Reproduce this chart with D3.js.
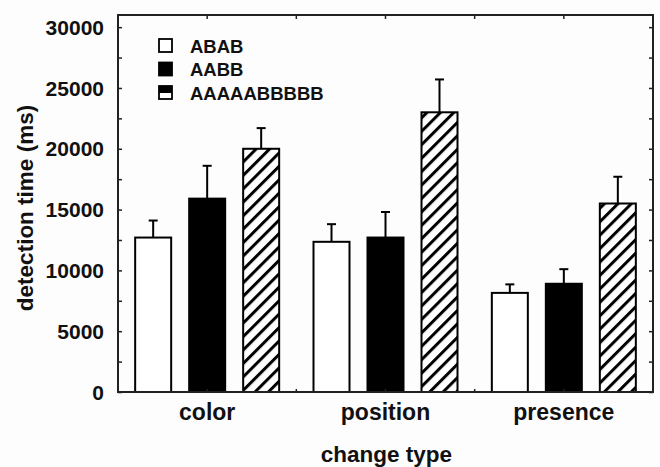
<!DOCTYPE html>
<html>
<head>
<meta charset="utf-8">
<script src="https://cdn.jsdelivr.net/npm/d3@7/dist/d3.min.js"></script>
<style>
  html, body { margin: 0; padding: 0; background: #fdfdfd; }
  svg { display: block; }
  text { font-family: "Liberation Sans", Arial, Helvetica, sans-serif; font-weight: bold; fill: #111; }
</style>
</head>
<body>
<svg id="chart" width="660" height="467"></svg>
<script>
const categories = ["color", "position", "presence"];
const seriesNames = ["ABAB", "AABB", "AAAAABBBBB"];
const valuesABAB = [12700, 12350, 8150];
const errorsABAB = [1400, 1450, 700];
const valuesAABB = [15900, 12700, 8900];
const errorsAABB = [2700, 2100, 1200];
const valuesAAAAABBBBB = [20000, 23000, 15500];
const errorsAAAAABBBBB = [1700, 2700, 2200];
const yTicks = [0, 5000, 10000, 15000, 20000, 25000, 30000];
const yMinorTicks = [2500, 7500, 12500, 17500, 22500, 27500];
const xLabel = "change type";
const yLabel = "detection time (ms)";

const seriesValues = [valuesABAB, valuesAABB, valuesAAAAABBBBB];
const seriesErrors = [errorsABAB, errorsAABB, errorsAAAAABBBBB];
const fills = ["#ffffff", "#000000", "url(#hatch)"];

const data = [];
categories.forEach((c, i) => {
  seriesNames.forEach((s, j) => {
    data.push({cat: c, series: s, value: seriesValues[j][i], err: seriesErrors[j][i], fill: fills[j]});
  });
});

const svg = d3.select("#chart");
const L = 118, R = 653, T = 15, B = 392;

const defs = svg.append("defs");
const pat = defs.append("pattern")
  .attr("id", "hatch")
  .attr("patternUnits", "userSpaceOnUse")
  .attr("width", 9.5).attr("height", 9.5)
  .attr("patternTransform", "rotate(45)");
pat.append("rect").attr("width", 9.5).attr("height", 9.5).attr("fill", "#fff");
pat.append("line").attr("x1", 1.5).attr("y1", 0).attr("x2", 1.5).attr("y2", 9.5)
  .attr("stroke", "#000").attr("stroke-width", 3);

const y = d3.scaleLinear().domain([0, 31000]).range([B, T]);
const x0 = d3.scaleBand().domain(categories).range([L, R]).padding(0);
const bw = x0.bandwidth();
const x1 = d3.scaleBand().domain(seriesNames)
  .range([bw / 2 - 72, bw / 2 + 72]).paddingInner(1 / 3).paddingOuter(0);

// bars
const g = svg.append("g");
g.selectAll("rect.bar").data(data).enter().append("rect")
  .attr("class", "bar")
  .attr("x", d => x0(d.cat) + x1(d.series))
  .attr("y", d => y(d.value))
  .attr("width", x1.bandwidth())
  .attr("height", d => y(0) - y(d.value))
  .attr("fill", d => d.fill)
  .attr("stroke", "#000")
  .attr("stroke-width", 2);

// error bars
const capW = 4.5;
g.selectAll("line.err").data(data).enter().append("line")
  .attr("x1", d => x0(d.cat) + x1(d.series) + x1.bandwidth() / 2)
  .attr("x2", d => x0(d.cat) + x1(d.series) + x1.bandwidth() / 2)
  .attr("y1", d => y(d.value))
  .attr("y2", d => y(d.value + d.err))
  .attr("stroke", "#000").attr("stroke-width", 2);
g.selectAll("line.cap").data(data).enter().append("line")
  .attr("x1", d => x0(d.cat) + x1(d.series) + x1.bandwidth() / 2 - capW)
  .attr("x2", d => x0(d.cat) + x1(d.series) + x1.bandwidth() / 2 + capW)
  .attr("y1", d => y(d.value + d.err))
  .attr("y2", d => y(d.value + d.err))
  .attr("stroke", "#000").attr("stroke-width", 2);

// axes (ticks inward)
const allYTicks = yTicks.concat(yMinorTicks);
const leftAxis = d3.axisRight(y).tickValues(allYTicks).tickSize(4).tickFormat("");
const rightAxis = d3.axisLeft(y).tickValues(allYTicks).tickSize(4).tickFormat("");
const la = svg.append("g").attr("transform", `translate(${L},0)`).call(leftAxis);
const ra = svg.append("g").attr("transform", `translate(${R},0)`).call(rightAxis);
[la, ra].forEach(a => {
  a.select(".domain").remove();
  a.selectAll("line").attr("stroke", "#222").attr("stroke-width", 1.5);
});

// y tick labels
svg.append("g").selectAll("text").data(yTicks).enter().append("text")
  .attr("x", L - 14)
  .attr("y", d => y(d))
  .attr("dy", "0.36em")
  .attr("text-anchor", "end")
  .attr("font-size", 21)
  .text(d => d);

// x top/bottom ticks at centers and boundaries
const xTickPos = [];
categories.forEach((c, i) => {
  xTickPos.push(x0(c) + bw / 2);
  if (i > 0) xTickPos.push(x0(c));
});
svg.append("g").selectAll("line").data(xTickPos).enter().append("line")
  .attr("x1", d => d).attr("x2", d => d)
  .attr("y1", T).attr("y2", T + 4)
  .attr("stroke", "#222").attr("stroke-width", 1.5);
svg.append("g").selectAll("line").data(xTickPos).enter().append("line")
  .attr("x1", d => d).attr("x2", d => d)
  .attr("y1", B).attr("y2", B - 3)
  .attr("stroke", "#222").attr("stroke-width", 1.5);

// frame
svg.append("rect")
  .attr("x", L).attr("y", T).attr("width", R - L).attr("height", B - T)
  .attr("fill", "none").attr("stroke", "#222").attr("stroke-width", 2);

// category labels
svg.append("g").selectAll("text").data(categories).enter().append("text")
  .attr("x", d => x0(d) + bw / 2)
  .attr("y", 420)
  .attr("text-anchor", "middle")
  .attr("font-size", 23)
  .text(d => d);

// axis titles
svg.append("text")
  .attr("x", (L + R) / 2 + 1)
  .attr("y", 462)
  .attr("text-anchor", "middle")
  .attr("font-size", 22.5)
  .text(xLabel);
svg.append("text")
  .attr("transform", `translate(33,208) rotate(-90)`)
  .attr("text-anchor", "middle")
  .attr("font-size", 22.5)
  .text(yLabel);

// legend
const legFills = ["#ffffff", "#000000", null];
const lg = svg.append("g");
seriesNames.forEach((s, i) => {
  const yy = 39 + i * 23.5;
  if (i < 2) {
    lg.append("rect").attr("x", 159).attr("y", yy).attr("width", 13).attr("height", 13)
      .attr("fill", legFills[i]).attr("stroke", "#000").attr("stroke-width", 1.8);
  } else {
    lg.append("rect").attr("x", 159).attr("y", yy).attr("width", 13).attr("height", 13)
      .attr("fill", "#fff").attr("stroke", "#000").attr("stroke-width", 1.8);
    lg.append("rect").attr("x", 159).attr("y", yy).attr("width", 13).attr("height", 7)
      .attr("fill", "#000");
  }
  lg.append("text").attr("x", 190).attr("y", yy + 13.5)
    .attr("font-size", 18.5).text(s);
});
</script>
</body>
</html>
